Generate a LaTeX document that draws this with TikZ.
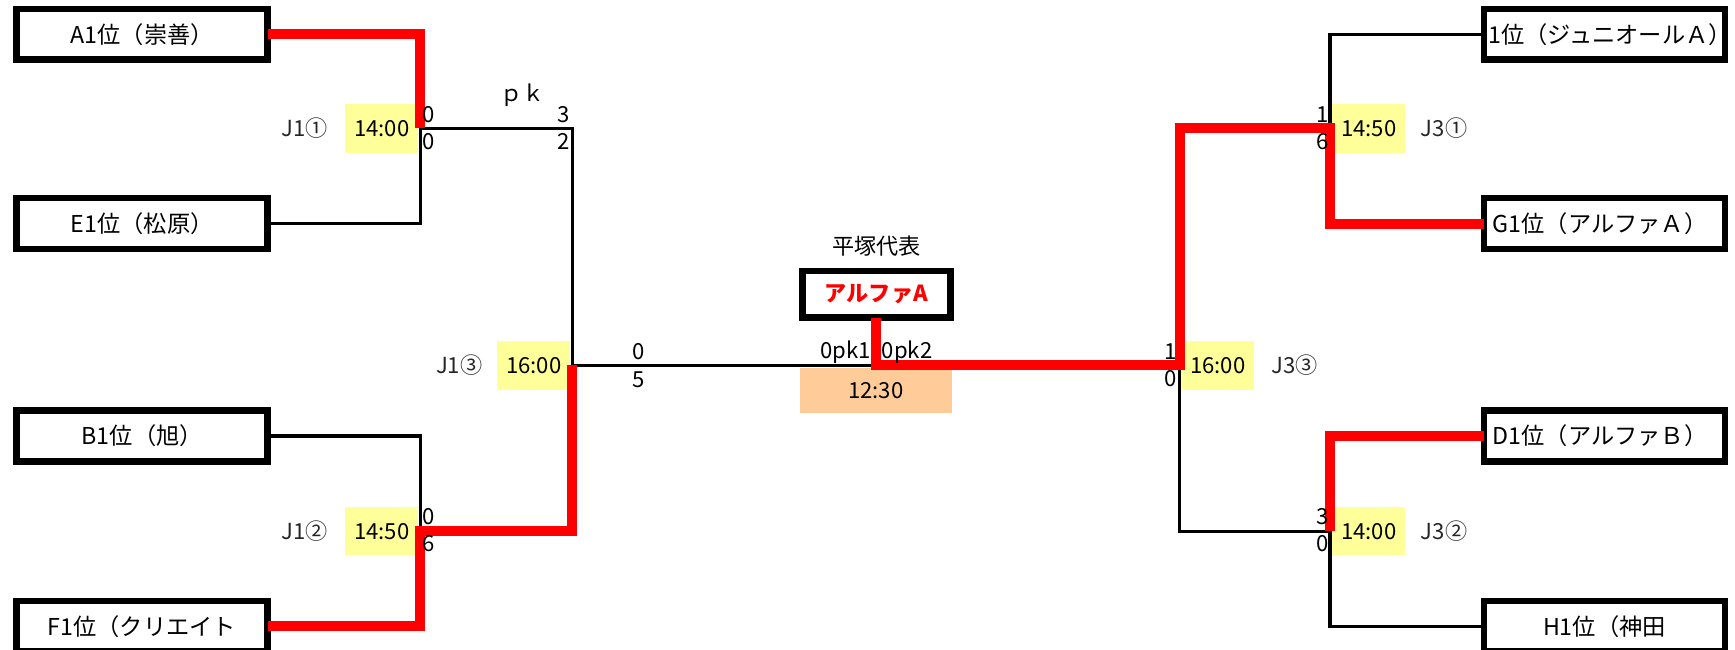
\documentclass[tikz,border=0pt]{standalone}
\usepackage{fontspec}
\setmainfont{Noto Sans CJK JP}
\definecolor{tyellow}{RGB}{255,255,153}
\definecolor{torange}{RGB}{255,204,153}
\definecolor{wred}{RGB}{255,0,0}
\begin{document}
\begin{tikzpicture}[x=1pt,y=-1pt,
  every node/.style={font=\fontsize{20}{24}\selectfont, inner sep=0pt, outer sep=0pt},
  team/.style={draw=black, line width=6pt, fill=white, minimum width=227pt, minimum height=46pt, font=\fontsize{21}{24}\selectfont},
  rteam/.style={team, minimum width=218pt},
  tname/.style={anchor=west, font=\fontsize{21}{24}\selectfont},
  timebox/.style={fill=tyellow, minimum width=66pt, minimum height=44pt},
  win/.style={draw=wred, line width=9pt},
  lose/.style={draw=black, line width=2.8pt},
  lbl/.style={text=black!85}
]
\useasboundingbox (0,0) rectangle (1568,587.4);
% time boxes
\node[timebox] (t11) at (345,116) {14:00};
\node[timebox] (t12) at (345,480) {14:50};
\node[timebox] (t13) at (482.5,330) {16:00};
\node[timebox] (t33) at (1100.5,330) {16:00};
\node[timebox] (t31) at (1237,116) {14:50};
\node[timebox] (t32) at (1237,480) {14:00};
\node[fill=torange, minimum width=137pt, minimum height=40pt] (t0) at (791.5,353) {12:30};
% teams left
\node[team] (A1) at (128.5,31) {A1位（崇善）};
\node[team] (E1) at (128.5,202) {E1位（松原）};
\node[team] (B1) at (128.5,394) {B1位（旭）};
\node[team] (F1) at (128.5,566) {};
\node[tname] (F1t) at (43,566) {F1位（クリエイト};
% teams right
\node[rteam] (R1) at (1450,31) {};
\node[tname] (R1t) at (1345,31) {1位（ジュニオールＡ）};
\draw[line width=6pt] (R1.south west) rectangle (R1.north east);
\node[rteam] (G1) at (1450,202) {};
\node[tname] (G1t) at (1349,202) {G1位（アルファＡ）};
\node[rteam] (D1) at (1450,394) {};
\node[tname] (D1t) at (1349,394) {D1位（アルファＢ）};
\node[rteam] (H1) at (1450,566) {H1位（神田};
% champion
\node (hdr) at (792,222) {平塚代表};
\node[team, minimum width=134pt, minimum height=42pt, text=wred, font=\fontsize{20}{24}\selectfont\bfseries] (champ) at (792,266) {アルファA};
% junctions
\coordinate (j1a) at (380,116);
\coordinate (j1b) at (380,480);
\coordinate (j1c) at (517,330);
\coordinate (fin) at (792,330);
\coordinate (j3c) at (1066,330);
\coordinate (j3a) at (1202,116);
\coordinate (j3b) at (1202,480);
% losing lines
\draw[lose] (E1.east) -| (j1a);
\draw[lose] (j1a) -| (j1c);
\draw[lose] (B1.east) -| (j1b);
\draw[lose] (j1c) -- (fin);
\draw[lose] (j3c) |- (j3b);
\draw[lose] (R1.west) -| (j3a);
\draw[lose] (H1.west) -| (j3b);
% winning lines
\draw[win] (A1.east) -| (j1a);
\draw[win] (F1.east) -| (j1b) -| (j1c);
\draw[win] (champ.south) -- (fin) -- (j3c) |- (j3a) |- (G1.west);
\draw[win] (D1.west) -| (j3b);
% round labels
\node[lbl] (l11) at (275,116) {J1①};
\node[lbl] (l12) at (275,480) {J1②};
\node[lbl] (l13) at (415,330) {J1③};
\node[lbl] (l31) at (1305,116) {J3①};
\node[lbl] (l32) at (1305,480) {J3②};
\node[lbl] (l33) at (1170,330) {J3③};
\node (pk) at (472,86) {ｐｋ};
% scores
\node (s1) at (387,104) {0};
\node (s2) at (387,128) {0};
\node (s3) at (509,104) {3};
\node (s4) at (509,128) {2};
\node (s5) at (387,467) {0};
\node (s6) at (387,491) {6};
\node (s7) at (577,318) {0};
\node (s8) at (577,343) {5};
\node[anchor=east] (s9) at (787,318) {0pk1};
\node[anchor=west] (s10) at (797,318) {0pk2};
\node (s11) at (1058,318) {1};
\node (s12) at (1058,342) {0};
\node (s13) at (1195,104) {1};
\node (s14) at (1195,128) {6};
\node (s15) at (1195,467) {3};
\node (s16) at (1195,491) {0};
\end{tikzpicture}
\end{document}
